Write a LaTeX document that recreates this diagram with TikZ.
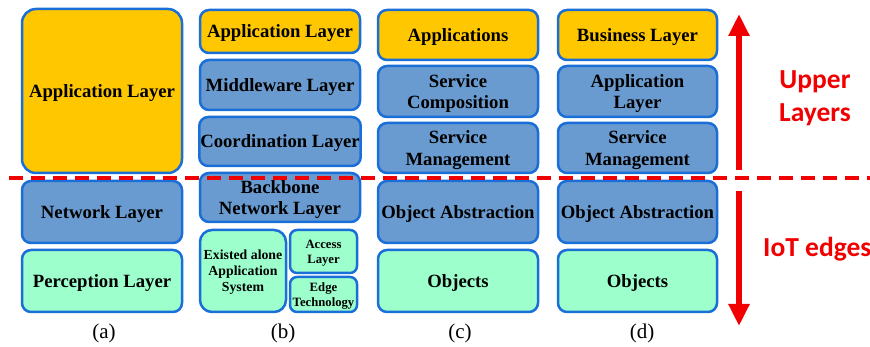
\documentclass[tikz,border=0pt]{standalone}
\usepackage{fontspec}
\setmainfont{Liberation Serif}
\newfontfamily\carl{Carlito}
\usetikzlibrary{arrows.meta}
\definecolor{yel}{HTML}{FFC700}
\definecolor{blu}{HTML}{6A9BD0}
\definecolor{grn}{HTML}{9CFFCC}
\definecolor{bord}{HTML}{1A6ED8}
\definecolor{rd}{HTML}{F00000}
\tikzset{
  lay/.style={draw=bord, line width=2.5pt, rounded corners=9pt, inner sep=1pt,
    text depth=0pt, align=center, font=\fontsize{18.7}{21.5}\selectfont\bfseries, text=black},
  smalltxt/.style={font=\fontsize{13.8}{16}\selectfont\bfseries},
  tinytxt/.style={font=\fontsize{12.7}{15}\selectfont\bfseries},
  subcap/.style={font=\fontsize{21}{24}\selectfont},
  side/.style={text=rd, align=center, font=\fontsize{27.5}{33}\selectfont\carl\bfseries},
  redarrow/.style={rd, line width=6pt, -{Triangle[width=20pt,length=22pt]}},
}
\begin{document}
\begin{tikzpicture}[x=1pt,y=-1pt]
\useasboundingbox (0,0) rectangle (870,347);
% (a)
\node[lay, fill=yel, minimum width=160pt, minimum height=164pt, rounded corners=14pt] (a1) at (102,91) {Application Layer};
\node[lay, fill=blu, minimum width=160pt, minimum height=62pt] (a2) at (102,212) {Network Layer};
\node[lay, fill=grn, minimum width=160pt, minimum height=62pt] (a3) at (102,281) {Perception Layer};
\node[subcap] (la) at (104,333) {(a)};
% (b)
\node[lay, fill=yel, minimum width=160pt, minimum height=43pt] (b1) at (280,31.5) {Application Layer};
\node[lay, fill=blu, minimum width=160pt, minimum height=50pt] (b2) at (280,85) {Middleware Layer};
\node[lay, fill=blu, minimum width=160pt, minimum height=49pt] (b3) at (280,141.5) {Coordination Layer};
\node[lay, fill=blu, minimum width=160pt, minimum height=49pt] (b4) at (280,197.5) {Backbone\\Network Layer};
\node[lay, smalltxt, fill=grn, minimum width=86pt, minimum height=82pt, rounded corners=12pt] (b5) at (243,271) {Existed alone\\Application\\System};
\node[lay, tinytxt, fill=grn, minimum width=67pt, minimum height=43pt, rounded corners=7pt] (b6) at (323.5,251.5) {Access\\Layer};
\node[lay, tinytxt, fill=grn, minimum width=67pt, minimum height=35pt, rounded corners=7pt] (b7) at (323.5,294.5) {Edge\\Technology};
\node[subcap] (lb) at (283,333) {(b)};
% (c)
\node[lay, fill=yel, minimum width=160pt, minimum height=50pt] (c1) at (458,35) {Applications};
\node[lay, fill=blu, minimum width=160pt, minimum height=51pt] (c2) at (458,91.5) {Service\\Composition};
\node[lay, fill=blu, minimum width=160pt, minimum height=50pt] (c3) at (458,148) {Service\\Management};
\node[lay, fill=blu, minimum width=160pt, minimum height=62pt] (c4) at (458,212) {Object Abstraction};
\node[lay, fill=grn, minimum width=160pt, minimum height=62pt] (c5) at (458,281) {Objects};
\node[subcap] (lc) at (460,333) {(c)};
% (d)
\node[lay, fill=yel, minimum width=159pt, minimum height=50pt] (d1) at (637.5,35) {Business Layer};
\node[lay, fill=blu, minimum width=159pt, minimum height=51pt] (d2) at (637.5,91.5) {Application\\Layer};
\node[lay, fill=blu, minimum width=159pt, minimum height=50pt] (d3) at (637.5,148) {Service\\Management};
\node[lay, fill=blu, minimum width=159pt, minimum height=62pt] (d4) at (637.5,212) {Object Abstraction};
\node[lay, fill=grn, minimum width=159pt, minimum height=62pt] (d5) at (637.5,281) {Objects};
\node[subcap] (ld) at (642,333) {(d)};
% dashed divider
\coordinate (dl) at (9,178);
\coordinate (dr) at (872,178);
\draw[rd, line width=3.5pt, dash pattern=on 14pt off 8pt] (dl) -- (dr);
% arrows
\coordinate (u0) at (739,170);
\coordinate (u1) at (739,14);
\coordinate (w0) at (739,191);
\coordinate (w1) at (739,326);
\draw[redarrow] (u0) -- (u1);
\draw[redarrow] (w0) -- (w1);
\node[side] (up) at (815,98) {Upper\\Layers};
\node[side, anchor=west, inner sep=0pt] (iot) at (763,249) {IoT edges};
\end{tikzpicture}
\end{document}
